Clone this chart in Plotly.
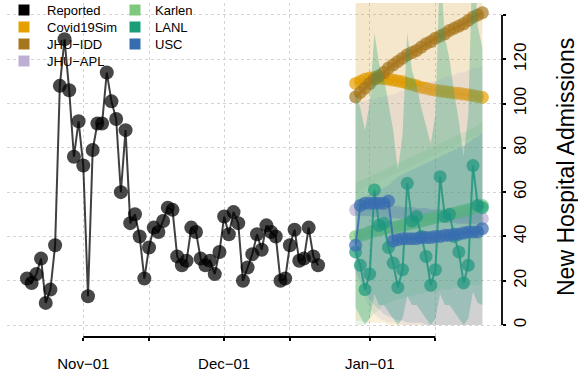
import pandas as pd
import plotly.graph_objects as go

# ---------------- data ----------------
reported_start = "2021-10-20"
reported = [21, 19, 23, 30, 10, 16, 36, 108, 129, 106, 76, 92, 72, 13, 79, 91, 91, 114, 101, 93,
            60, 88, 46, 50, 40, 21, 35, 44, 42, 47, 53, 52, 31, 27, 29, 44, 42, 30, 27, 29,
            23, 33, 49, 41, 51, 46, 20, 26, 32, 41, 34, 45, 42, 40, 20, 21, 36, 43, 29, 30,
            44, 31, 27]

forecast_start = "2021-12-29"
covid19sim = [109.1, 110, 111, 111.5, 111.8, 111.5, 111.3, 111, 110.6, 110.2, 109.8, 109.1, 108.6, 108,
              107.3, 106.9, 106.4, 106, 105.7, 105.4, 105.1, 104.8, 104.6, 104.3, 104, 103.6, 103.2, 102.8]
covid19sim_lo = [2, 2, 1, 1, 1, 1, 1, 0, 0, 0, 0, 0, 0, 0, 0, 0, 0, 0, 0, 0, 0, 0, 0, 0, 0, 0, 0, 0]
covid19sim_hi = [250, 250, 250, 250, 250, 250, 250, 250, 250, 250, 250, 250, 250, 250,
                 250, 250, 250, 250, 250, 250, 250, 250, 250, 250, 250, 250, 250, 250]

jhu_idd = [103, 105, 107, 109, 111, 112.5, 114, 116, 117.5, 119, 120.5, 122, 123, 124,
           125.5, 127, 128, 129.5, 130.5, 131.5, 133, 134, 135, 136, 137.5, 139, 140, 141]
jhu_idd_lo = [60, 61, 62, 63, 64, 65, 66, 67, 68, 69, 70, 71, 72, 73,
              74, 75, 76, 77, 78, 79, 80, 81, 82, 83, 84, 85, 86, 87]
jhu_idd_hi = [220, 222, 224, 226, 228, 230, 232, 234, 236, 238, 240, 242, 244, 246,
              248, 250, 252, 254, 256, 258, 260, 262, 264, 266, 268, 270, 272, 274]

jhu_apl = [52, 52, 52, 52, 51.5, 51.5, 51.5, 51, 51, 51, 50.5, 50.5, 50.5, 50,
           50, 50, 49.5, 49.5, 49.5, 49, 49, 49, 48.5, 48.5, 48.5, 48.5, 48, 48]
jhu_apl_lo = [22, 18, 12, 8, 5, 3, 2, 1, 1, 1, 0, 0, 0, 0, 0, 0, 0, 0, 0, 0, 0, 0, 0, 0, 0, 0, 0, 0]
jhu_apl_hi = [100, 101, 101, 102, 102, 103, 103, 104, 104, 105, 106, 106, 107, 108,
              108, 109, 110, 110, 111, 112, 112, 113, 114, 114, 115, 116, 116, 117]

karlen = [40, 40.5, 41, 42, 42.5, 43, 43.5, 44, 44, 44.5, 45, 45.5, 46, 46.5,
          47, 47.5, 48, 48.5, 49, 49.5, 50, 50.5, 51, 51.5, 52, 52.5, 53.5, 54]
karlen_lo = [0, 0, 1, 3, 5, 7, 9, 10, 11, 12, 12, 13, 13, 14, 14, 15, 15, 15, 16, 16, 16, 17, 17, 17, 18, 18, 18, 19]
karlen_hi = [64, 65, 66, 67, 68, 69, 70, 71, 72, 73, 74, 75, 76, 77,
             78, 79, 80, 81, 82, 83, 84, 85, 86, 87, 88, 89, 90, 92]

lanl = [33, 27, 16, 23, 61, 45, 46, 35, 28, 17, 25, 64, 47, 49,
        40, 31, 18, 25, 67, 49, 50, 40, 33, 19, 27, 72, 54, 53]
lanl_lo = [8, 4, 0, 3, 14, 9, 9, 6, 3, 0, 3, 13, 9, 9, 6, 3, 0, 3, 14, 9, 9, 6, 3, 0, 3, 15, 10, 9]
lanl_hi = [105, 98, 88, 100, 132, 118, 112, 100, 88, 70, 86, 132, 115, 108,
           98, 90, 82, 95, 165, 130, 120, 105, 92, 76, 95, 175, 135, 125]

usc = [36, 54, 55, 55, 55, 55, 55, 56, 38, 38.5, 39, 39, 39, 39,
       39.5, 39.5, 39.5, 40, 40, 40.5, 40.5, 41, 41, 41.5, 42, 42, 42, 43.5]
usc_lo = [24, 20, 16, 12, 9, 7, 5, 4, 3, 2, 2, 1, 1, 1, 1, 0, 0, 0, 0, 0, 0, 0, 0, 0, 0, 0, 0, 0]
usc_hi = [56, 57, 58, 59, 60, 61, 62, 63, 65, 67, 68, 69, 70, 71,
          72, 73, 74, 75, 76, 77, 78, 79, 80, 81, 82, 84, 85, 87]

model_names = ["Covid19Sim", "JHU\u2212IDD", "JHU\u2212APL", "Karlen", "LANL", "USC"]
model_colors = ["#E69F00", "#A6761D", "#BEAED4", "#7FC97F", "#1B9E77", "#386CB0"]
band_alpha = [0.14, 0.08, 0.2, 0.2, 0.3, 0.15]

legend_col1 = [("Reported", "#000000"), ("Covid19Sim", "#E69F00"),
               ("JHU\u2212IDD", "#A6761D"), ("JHU\u2212APL", "#BEAED4")]
legend_col2 = [("Karlen", "#7FC97F"), ("LANL", "#1B9E77"), ("USC", "#386CB0")]

x_tick_dates = ["2021-11-01", "2021-11-15", "2021-12-01", "2021-12-15", "2022-01-01", "2022-01-15"]
x_tick_text = ["Nov\u221201", "", "Dec\u221201", "", "Jan\u221201", ""]
y_tick_vals = [0, 20, 40, 60, 80, 100, 120, 140]
y_tick_text = ["0", "20", "40", "60", "80", "100", "120", ""]

# ---------------- figure ----------------
W, H = 578, 376
ML, MR, MT, MB = 7, 76, 3, 39
PW, PH = W - ML - MR, H - MT - MB


def px_x(p):  # pixel -> paper fraction
    return (p - ML) / PW


def px_y(p):
    return (MT + PH - p) / PH


def rgba(hx, a):
    hx = hx.lstrip("#")
    r, g, b = int(hx[0:2], 16), int(hx[2:4], 16), int(hx[4:6], 16)
    return f"rgba({r},{g},{b},{a})"


rep_dates = pd.date_range(reported_start, periods=len(reported), freq="D")
fc_dates = pd.date_range(forecast_start, periods=len(lanl), freq="D")

models = [
    (covid19sim, covid19sim_lo, covid19sim_hi),
    (jhu_idd, jhu_idd_lo, jhu_idd_hi),
    (jhu_apl, jhu_apl_lo, jhu_apl_hi),
    (karlen, karlen_lo, karlen_hi),
    (lanl, lanl_lo, lanl_hi),
    (usc, usc_lo, usc_hi),
]

fig = go.Figure()

fig.add_trace(go.Scatter(
    x=rep_dates, y=reported, mode="lines+markers", name="Reported",
    line=dict(color="rgba(0,0,0,0.75)", width=2),
    marker=dict(color="rgba(0,0,0,0.72)", size=14),
    showlegend=False, hoverinfo="skip"))

band_x = list(fc_dates) + list(fc_dates[::-1])
for (med, lo, hi), name, col, a in zip(models, model_names, model_colors, band_alpha):
    fig.add_trace(go.Scatter(
        x=band_x, y=list(hi) + list(lo[::-1]), fill="toself",
        fillcolor=rgba(col, a), line=dict(width=0), mode="lines",
        showlegend=False, hoverinfo="skip"))
    fig.add_trace(go.Scatter(
        x=fc_dates, y=med, mode="lines+markers", name=name,
        line=dict(color=rgba(col, 0.85), width=2),
        marker=dict(color=rgba(col, 0.7), size=13),
        showlegend=False, hoverinfo="skip"))

# legend (two columns, filled squares), laid out like base R's legend()
row_y = [10, 27, 44, 61]
for col_items, sq_x, txt_x in [(legend_col1, 24, 45), (legend_col2, 135, 153)]:
    for (name, col), ry in zip(col_items, row_y):
        fig.add_shape(type="rect", xref="paper", yref="paper",
                      x0=px_x(sq_x - 5.5), x1=px_x(sq_x + 5.5),
                      y0=px_y(ry + 5.5), y1=px_y(ry - 5.5),
                      fillcolor=col, line=dict(width=0), layer="above")
        fig.add_annotation(text=name, xref="paper", yref="paper",
                           x=px_x(txt_x), y=px_y(ry), xanchor="left", yanchor="middle",
                           showarrow=False, font=dict(size=13, color="black"))

# axis lines spanning first..last tick, like base R
fig.add_shape(type="line", xref="x", yref="paper", x0=x_tick_dates[0], x1=x_tick_dates[-1],
              y0=0, y1=0, line=dict(color="black", width=1.8))
fig.add_shape(type="line", xref="paper", yref="y", x0=1, x1=1,
              y0=y_tick_vals[0], y1=y_tick_vals[-1], line=dict(color="black", width=1.8))

fig.add_annotation(text="New Hospital Admissions", xref="paper", yref="paper",
                   x=1, y=px_y(167), xshift=64, textangle=-90, showarrow=False,
                   xanchor="center", yanchor="middle",
                   font=dict(size=23, color="black"))

fig.update_layout(
    width=W, height=H,
    margin=dict(l=ML, r=MR, t=MT, b=MB),
    paper_bgcolor="white", plot_bgcolor="white",
    font=dict(family="Liberation Sans", color="black"),
    showlegend=False,
    xaxis=dict(range=["2021-10-15 18:00", "2022-01-29 04:20"],
               tickvals=x_tick_dates, ticktext=x_tick_text,
               ticks="outside", ticklen=3, tickwidth=1.8, tickcolor="black",
               showline=False, zeroline=False, automargin=False,
               showgrid=True, gridcolor="#D3D3D3", griddash="dot", gridwidth=1,
               tickfont=dict(size=15), ticklabelstandoff=10),
    yaxis=dict(range=[-5.4, 145.4], side="right",
               tickvals=y_tick_vals, ticktext=y_tick_text, tickangle=-90,
               ticks="outside", ticklen=3, tickwidth=1.8, tickcolor="black",
               showline=False, zeroline=False, automargin=False,
               showgrid=True, gridcolor="#D3D3D3", griddash="dot", gridwidth=1,
               tickfont=dict(size=17), ticklabelstandoff=0),
)

# remove the browser's default 8px body margin so the figure fills the window
fig.write_html("out.html", config={"displayModeBar": False},
               post_script="document.body.style.margin='0';")
